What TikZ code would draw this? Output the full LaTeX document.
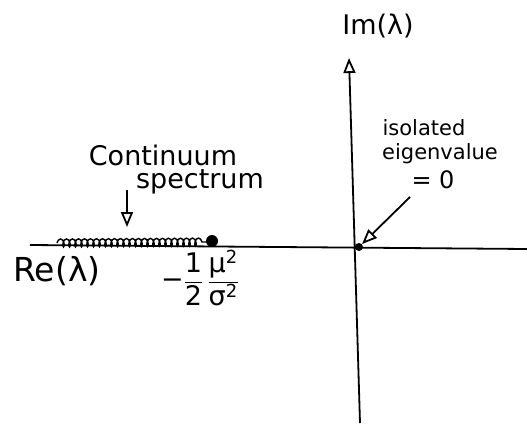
\documentclass[tikz,border=0pt]{standalone}
\usepackage{fontspec}
\setmainfont{DejaVu Sans}
\usetikzlibrary{arrows.meta,decorations.pathmorphing}
\begin{document}
\begin{tikzpicture}[x=1pt,y=-1pt,
  axisline/.style={line width=1.8pt,black},
  hand/.style={font=\fontsize{27}{30}\selectfont,inner sep=0pt},
  handsm/.style={font=\fontsize{21}{24}\selectfont,inner sep=0pt},
  openarrow/.style={line width=1.8pt,-{Triangle[open,length=15pt,width=12pt,line width=1.8pt]}},
  dotmark/.style={circle,fill=black,inner sep=0pt,minimum size=9pt}]
\useasboundingbox (0,0) rectangle (527,423);
% axes
\coordinate (xl) at (30,245);
\coordinate (xr) at (527,249);
\coordinate (yb) at (360,423);
\coordinate (yt) at (349,58);
\draw[axisline] (xl) -- (xr);
\draw[openarrow] (yb) -- (yt);
% continuum
\coordinate (cs) at (57,243);
\coordinate (ce) at (207,242);
\draw[line width=1.4pt,decorate,decoration={coil,amplitude=4pt,segment length=6pt}] (cs) -- (ce);
\node[dotmark,minimum width=12pt,minimum height=11pt] (edge) at (212,241) {};
\node[dotmark,minimum size=8pt] (orig) at (359,247) {};
% labels
\node[hand] (im) at (378,26) {Im(λ)};
\node[hand,font=\fontsize{33}{36}\selectfont] (re) at (57,271) {Re(λ)};
\node[hand] (cont) at (163,155) {Continuum};
\node[hand] (spec) at (200,182) {spectrum};
\node[handsm] (iso) at (424,128) {isolated};
\node[handsm] (eig) at (440,154) {eigenvalue};
\node[handsm,font=\fontsize{24}{26}\selectfont] (eq) at (433,180) {= 0};
\node[hand,font=\fontsize{27}{30}\selectfont] (frac) at (200,278) {$\displaystyle\mbox{−}\frac{\mbox{1}}{\mbox{2}}\,\frac{\mbox{μ}^{\mbox{\fontsize{18}{20}\selectfont 2}}}{\mbox{σ}^{\mbox{\fontsize{18}{20}\selectfont 2}}}$};
% arrows
\coordinate (ca) at (127,190);
\coordinate (cb) at (127,227);
\draw[openarrow] (ca) -- (cb);
\coordinate (ea) at (410,197);
\draw[openarrow] (ea) -- (orig);
\end{tikzpicture}
\end{document}
